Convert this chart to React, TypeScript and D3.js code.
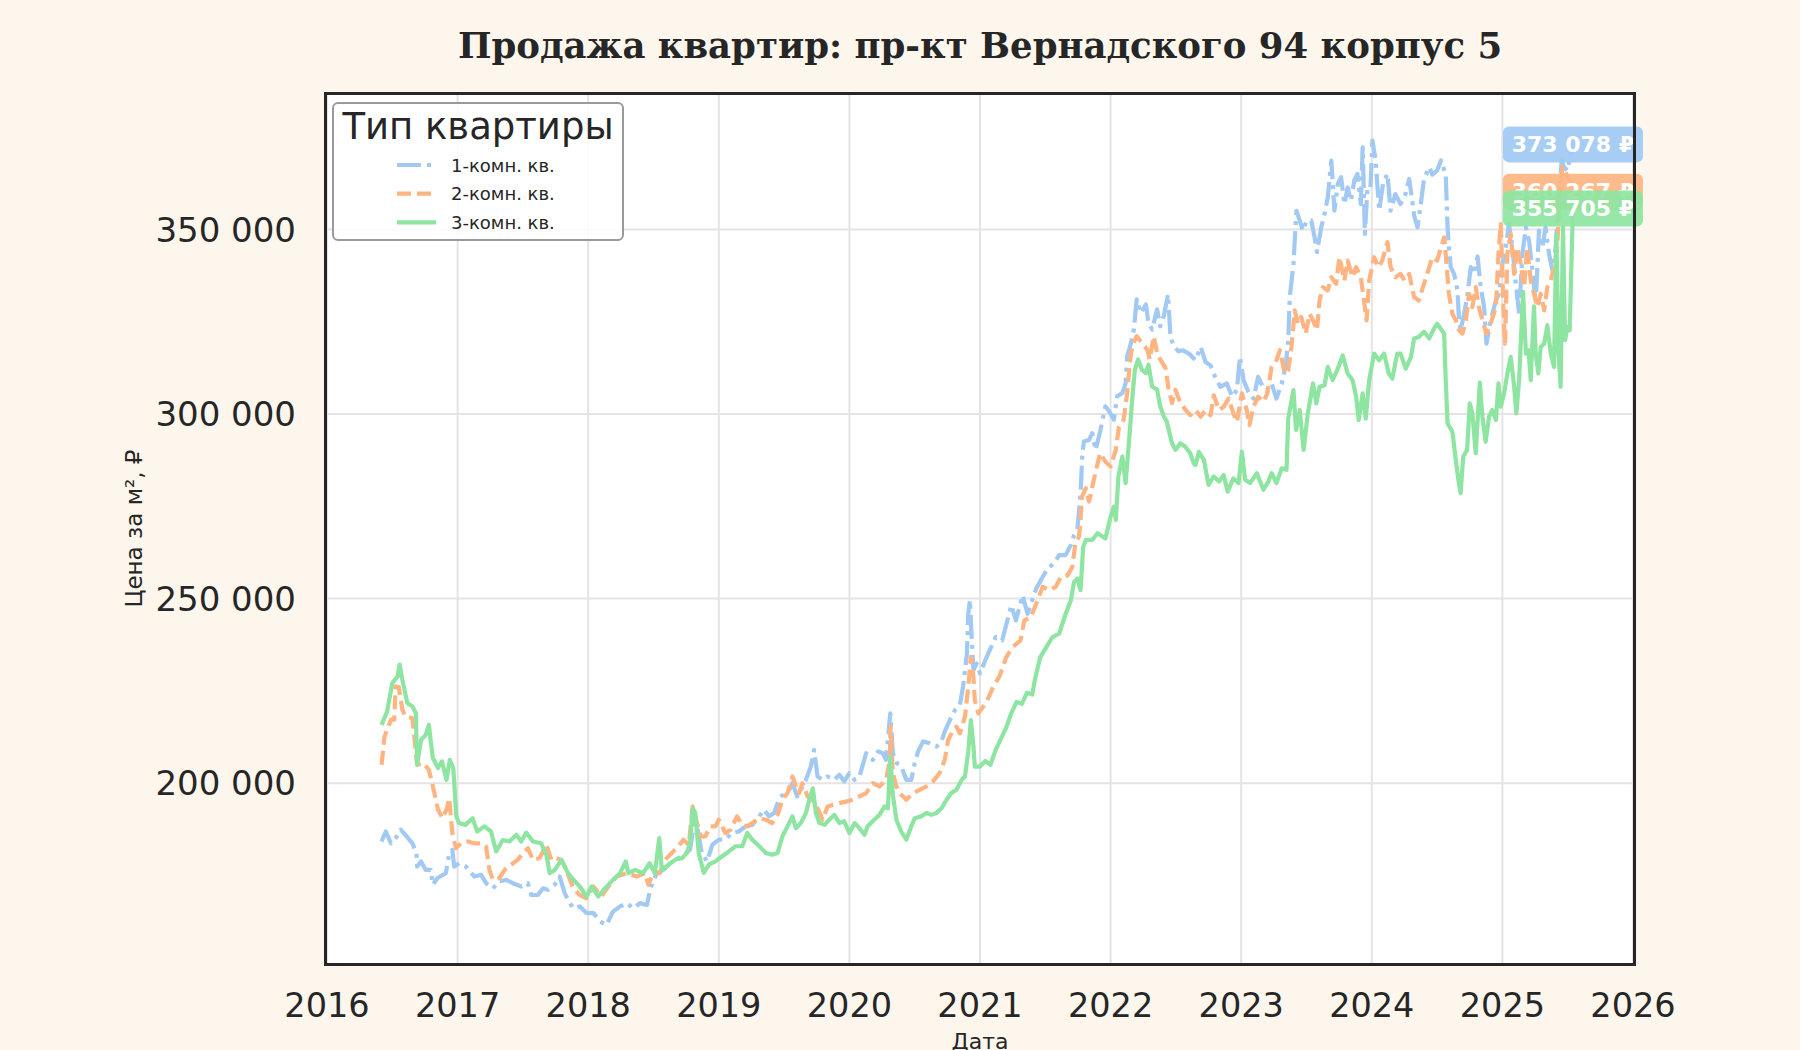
import React from 'react';
import * as d3 from 'd3';

// ---------- DATA (decimal year, price per m²) ----------
const oneRoom: [number, number][] = [
  [2016.418, 184200], [2016.45, 186900], [2016.49, 183700], [2016.526, 185100], [2016.564, 187400],
  [2016.6, 186000], [2016.654, 183700], [2016.685, 181000], [2016.69, 177400], [2016.72, 178800],
  [2016.756, 176500], [2016.795, 176500], [2016.81, 172500], [2016.846, 174300], [2016.91, 175600],
  [2016.936, 181000], [2016.96, 181900], [2016.974, 177400], [2017.013, 178300], [2017.064, 177400],
  [2017.128, 174700], [2017.18, 175200], [2017.218, 172900], [2017.27, 171500], [2017.32, 173400],
  [2017.372, 173800], [2017.423, 172900], [2017.487, 172000], [2017.538, 172900], [2017.564, 169700],
  [2017.615, 169700], [2017.654, 171500], [2017.692, 171100], [2017.744, 172500], [2017.782, 174700],
  [2017.82, 170200], [2017.846, 168400], [2017.885, 166100], [2017.936, 166600], [2017.987, 164800],
  [2018.04, 164800], [2018.09, 162500], [2018.14, 161600], [2018.19, 165200], [2018.244, 166600],
  [2018.295, 167500], [2018.346, 166100], [2018.397, 167500], [2018.45, 167000], [2018.474, 171100],
  [2018.5, 173800], [2018.526, 175600], [2018.577, 176500], [2018.64, 178800], [2018.72, 180200],
  [2018.78, 182000], [2018.81, 189200], [2018.833, 188300], [2018.87, 181100], [2018.91, 178800],
  [2018.95, 183300], [2019.0, 184700], [2019.05, 184700], [2019.1, 186500], [2019.154, 186900],
  [2019.205, 188300], [2019.256, 188700], [2019.31, 191000], [2019.346, 192800], [2019.385, 191000],
  [2019.423, 191900], [2019.46, 195500], [2019.5, 197300], [2019.54, 198200], [2019.564, 200000],
  [2019.6, 196400], [2019.628, 198200], [2019.667, 200900], [2019.705, 204500], [2019.73, 209000],
  [2019.756, 201800], [2019.795, 200900], [2019.833, 201800], [2019.885, 200900], [2019.923, 202300],
  [2019.96, 200500], [2020.0, 202700], [2020.04, 200900], [2020.077, 201800], [2020.128, 208100],
  [2020.18, 206300], [2020.22, 208600], [2020.256, 208100], [2020.28, 206300], [2020.313, 218900],
  [2020.333, 208100], [2020.364, 205400], [2020.397, 204500], [2020.436, 200900], [2020.474, 200900],
  [2020.5, 205400], [2020.526, 208600], [2020.564, 211300], [2020.615, 210800], [2020.667, 209900],
  [2020.705, 211300], [2020.73, 214000], [2020.77, 217100], [2020.808, 219800], [2020.846, 221200],
  [2020.87, 226100], [2020.9, 235100], [2020.91, 245900], [2020.923, 249600], [2020.936, 239600],
  [2020.95, 230600], [2020.974, 232400], [2021.0, 229700], [2021.05, 234100], [2021.12, 239600],
  [2021.17, 238700], [2021.24, 248200], [2021.275, 244100], [2021.326, 250900], [2021.364, 245900],
  [2021.43, 252700], [2021.466, 255000], [2021.517, 258200], [2021.567, 259500], [2021.606, 261800],
  [2021.656, 261800], [2021.695, 264500], [2021.72, 267200], [2021.746, 269000], [2021.77, 278500],
  [2021.784, 289400], [2021.796, 292600], [2021.835, 293000], [2021.86, 294800], [2021.885, 290300],
  [2021.92, 295300], [2021.96, 302100], [2021.99, 300700], [2022.025, 298500], [2022.05, 304800],
  [2022.09, 305700], [2022.115, 308400], [2022.127, 315700], [2022.15, 318400], [2022.178, 322900],
  [2022.2, 331100], [2022.23, 327400], [2022.27, 329700], [2022.29, 324700], [2022.318, 322900],
  [2022.356, 328400], [2022.38, 323800], [2022.407, 326500], [2022.44, 332400], [2022.458, 321100],
  [2022.483, 318400], [2022.52, 317000], [2022.55, 317300], [2022.6, 316400], [2022.65, 314600],
  [2022.69, 318200], [2022.727, 314100], [2022.765, 313200], [2022.8, 310100], [2022.84, 307400],
  [2022.89, 308300], [2022.93, 304700], [2022.967, 306500], [2022.99, 315500], [2023.018, 309200],
  [2023.056, 306000], [2023.094, 304200], [2023.13, 310100], [2023.165, 307400], [2023.195, 306500],
  [2023.233, 308300], [2023.27, 304200], [2023.31, 308300], [2023.34, 312800], [2023.36, 320000],
  [2023.372, 331700], [2023.4, 340700], [2023.41, 347000], [2023.423, 355100], [2023.448, 352400],
  [2023.473, 349700], [2023.5, 352400], [2023.537, 352400], [2023.562, 347900], [2023.58, 343900],
  [2023.613, 350600], [2023.638, 354200], [2023.663, 358700], [2023.69, 368700], [2023.714, 355100],
  [2023.74, 362400], [2023.765, 364200], [2023.79, 356900], [2023.815, 361400], [2023.84, 357800],
  [2023.866, 363300], [2023.89, 365100], [2023.916, 356900], [2023.93, 372300], [2023.947, 348800],
  [2023.967, 361400], [2023.99, 361400], [2024.005, 374100], [2024.03, 368700], [2024.056, 355100],
  [2024.086, 362400], [2024.12, 365100], [2024.144, 355100], [2024.18, 359600], [2024.22, 356900],
  [2024.258, 359600], [2024.286, 363700], [2024.31, 357800], [2024.324, 353800], [2024.35, 350600],
  [2024.375, 356900], [2024.4, 363700], [2024.44, 366900], [2024.464, 364900], [2024.5, 366000],
  [2024.53, 368700], [2024.566, 364900], [2024.58, 350600], [2024.59, 345200], [2024.605, 339800],
  [2024.63, 338000], [2024.656, 333500], [2024.668, 325400], [2024.68, 322700], [2024.707, 327200],
  [2024.73, 331700], [2024.758, 339800], [2024.783, 338000], [2024.81, 342700], [2024.834, 334400],
  [2024.86, 329000], [2024.878, 319100], [2024.91, 325400], [2024.95, 330800], [2024.974, 332600],
  [2025.0, 340700], [2025.026, 345200], [2025.05, 351500], [2025.077, 345200], [2025.1, 336200],
  [2025.128, 327200], [2025.153, 343400], [2025.18, 350600], [2025.204, 347000], [2025.23, 338900],
  [2025.255, 329900], [2025.28, 349700], [2025.306, 345200], [2025.33, 350600], [2025.357, 343400],
  [2025.383, 338900], [2025.408, 345200], [2025.434, 358700], [2025.454, 368700], [2025.472, 366900],
  [2025.497, 366000], [2025.54, 373078],
];

const twoRoom: [number, number][] = [
  [2016.418, 205000], [2016.44, 212600], [2016.49, 217200], [2016.515, 217200], [2016.526, 226200],
  [2016.55, 226000], [2016.577, 219900], [2016.6, 218100], [2016.654, 217600], [2016.69, 205000],
  [2016.74, 205400], [2016.78, 203600], [2016.82, 197700], [2016.85, 192800], [2016.885, 190500],
  [2016.915, 192800], [2016.936, 195900], [2016.96, 186400], [2016.987, 182400], [2017.026, 183700],
  [2017.077, 184200], [2017.128, 183700], [2017.19, 183700], [2017.218, 182800], [2017.244, 176500],
  [2017.27, 173800], [2017.32, 174300], [2017.36, 176500], [2017.41, 177900], [2017.46, 179200],
  [2017.5, 181000], [2017.538, 182400], [2017.577, 179200], [2017.628, 179700], [2017.68, 183300],
  [2017.718, 179200], [2017.756, 179700], [2017.795, 179200], [2017.833, 176500], [2017.885, 171500],
  [2017.936, 169700], [2017.987, 168800], [2018.04, 172000], [2018.1, 169300], [2018.154, 172000],
  [2018.218, 174700], [2018.295, 175600], [2018.37, 174700], [2018.436, 175600], [2018.46, 172500],
  [2018.5, 175600], [2018.55, 175700], [2018.59, 179300], [2018.64, 181100], [2018.69, 182900],
  [2018.73, 184700], [2018.77, 183300], [2018.8, 193700], [2018.833, 189200], [2018.86, 185600],
  [2018.897, 185600], [2018.936, 188300], [2018.974, 188300], [2019.0, 190100], [2019.05, 186500],
  [2019.09, 187400], [2019.14, 191000], [2019.18, 188700], [2019.218, 188300], [2019.256, 189200],
  [2019.31, 190500], [2019.36, 190100], [2019.41, 189200], [2019.45, 191400], [2019.487, 195500],
  [2019.526, 197300], [2019.564, 201800], [2019.59, 199100], [2019.615, 197300], [2019.64, 200000],
  [2019.68, 196400], [2019.718, 195500], [2019.756, 193200], [2019.795, 190100], [2019.833, 193700],
  [2019.87, 194100], [2019.923, 194600], [2019.974, 195000], [2020.026, 195500], [2020.077, 196400],
  [2020.128, 197300], [2020.18, 200000], [2020.23, 199100], [2020.28, 200900], [2020.31, 206300],
  [2020.315, 215300], [2020.333, 202700], [2020.36, 199100], [2020.385, 197300], [2020.436, 195500],
  [2020.487, 197300], [2020.538, 198200], [2020.59, 199100], [2020.64, 200500], [2020.69, 202700],
  [2020.73, 206300], [2020.756, 211700], [2020.795, 214400], [2020.82, 215300], [2020.846, 213500],
  [2020.885, 218000], [2020.91, 226100], [2020.93, 234200], [2020.95, 228800], [2020.96, 222500],
  [2020.987, 218900], [2021.05, 222000], [2021.1, 226000], [2021.15, 229000], [2021.2, 234100],
  [2021.25, 236900], [2021.31, 238700], [2021.34, 244100], [2021.39, 245000], [2021.44, 249500],
  [2021.48, 253200], [2021.53, 252300], [2021.58, 253200], [2021.62, 255900], [2021.67, 256300],
  [2021.707, 258600], [2021.72, 262200], [2021.73, 264900], [2021.758, 266800], [2021.77, 271300],
  [2021.78, 277600], [2021.81, 279900], [2021.835, 276300], [2021.86, 280300], [2021.885, 284400],
  [2021.92, 289400], [2021.96, 287100], [2022.0, 285800], [2022.04, 290300], [2022.064, 296600],
  [2022.1, 298500], [2022.127, 305700], [2022.15, 314800], [2022.165, 318400], [2022.2, 321100],
  [2022.24, 319300], [2022.28, 317500], [2022.3, 314800], [2022.33, 321100], [2022.356, 316600],
  [2022.38, 314800], [2022.42, 312500], [2022.445, 306600], [2022.47, 303000], [2022.496, 306600],
  [2022.534, 303000], [2022.575, 301100], [2022.61, 299700], [2022.65, 301100], [2022.69, 299300],
  [2022.727, 301100], [2022.765, 299700], [2022.79, 305100], [2022.83, 301100], [2022.866, 302000],
  [2022.904, 304200], [2022.94, 300200], [2022.967, 297900], [2023.005, 305600], [2023.043, 301100],
  [2023.063, 297000], [2023.094, 302000], [2023.13, 304700], [2023.17, 303300], [2023.2, 305600],
  [2023.233, 312800], [2023.27, 314600], [2023.296, 317300], [2023.334, 311000], [2023.36, 311900],
  [2023.385, 318200], [2023.41, 328100], [2023.435, 324500], [2023.46, 326300], [2023.494, 321800],
  [2023.524, 327200], [2023.55, 325400], [2023.58, 322700], [2023.6, 330800], [2023.625, 334400],
  [2023.663, 333500], [2023.69, 337100], [2023.727, 335300], [2023.752, 342500], [2023.79, 336200],
  [2023.815, 341600], [2023.853, 337100], [2023.88, 339800], [2023.916, 337100], [2023.94, 330800],
  [2023.96, 325400], [2023.98, 336200], [2024.018, 342500], [2024.05, 339800], [2024.08, 341600],
  [2024.12, 346600], [2024.144, 339800], [2024.18, 337100], [2024.22, 338000], [2024.25, 336200],
  [2024.286, 338000], [2024.324, 331700], [2024.36, 330800], [2024.4, 335300], [2024.44, 339800],
  [2024.464, 342500], [2024.5, 341600], [2024.53, 345200], [2024.554, 347900], [2024.57, 341600],
  [2024.59, 332600], [2024.617, 327200], [2024.643, 325400], [2024.668, 322700], [2024.694, 321800],
  [2024.72, 325400], [2024.745, 332600], [2024.77, 329000], [2024.796, 334400], [2024.82, 329000],
  [2024.847, 325400], [2024.878, 321800], [2024.91, 324500], [2024.95, 329000], [2024.97, 343400],
  [2024.987, 351500], [2025.013, 323600], [2025.02, 319100], [2025.038, 343400], [2025.064, 348800],
  [2025.09, 338000], [2025.115, 345200], [2025.14, 340700], [2025.166, 334400], [2025.19, 345200],
  [2025.217, 336200], [2025.242, 332600], [2025.268, 329000], [2025.293, 332600], [2025.32, 328100],
  [2025.344, 334400], [2025.37, 336200], [2025.395, 339800], [2025.42, 345200], [2025.44, 361400],
  [2025.46, 366900], [2025.48, 366000], [2025.54, 360267],
];

const threeRoom: [number, number][] = [
  [2016.418, 215800], [2016.46, 219400], [2016.5, 227100], [2016.54, 228900], [2016.556, 232100],
  [2016.577, 228000], [2016.615, 221700], [2016.654, 220800], [2016.68, 219000], [2016.69, 205000],
  [2016.72, 211700], [2016.756, 213100], [2016.78, 215800], [2016.81, 206800], [2016.85, 204100],
  [2016.88, 205900], [2016.915, 200900], [2016.94, 206300], [2016.967, 204100], [2016.99, 191000],
  [2017.01, 189200], [2017.06, 188700], [2017.115, 190500], [2017.15, 186900], [2017.205, 188300],
  [2017.256, 186900], [2017.295, 181500], [2017.346, 184600], [2017.397, 184200], [2017.45, 186000],
  [2017.487, 184200], [2017.526, 186600], [2017.577, 184200], [2017.64, 183700], [2017.68, 180600],
  [2017.705, 175600], [2017.744, 176500], [2017.795, 179200], [2017.846, 175600], [2017.897, 173400],
  [2017.936, 172000], [2017.987, 169300], [2018.026, 172000], [2018.077, 169300], [2018.128, 171500],
  [2018.19, 173800], [2018.244, 175600], [2018.287, 178800], [2018.308, 175600], [2018.36, 176500],
  [2018.42, 175600], [2018.47, 178300], [2018.51, 175600], [2018.544, 185100], [2018.564, 176500],
  [2018.615, 177900], [2018.667, 179300], [2018.72, 179700], [2018.756, 181100], [2018.78, 183800],
  [2018.8, 193200], [2018.82, 191900], [2018.846, 181100], [2018.885, 175700], [2018.923, 177900],
  [2018.974, 178800], [2019.026, 180200], [2019.077, 181500], [2019.128, 182900], [2019.18, 182900],
  [2019.218, 186500], [2019.256, 184700], [2019.31, 182900], [2019.36, 181100], [2019.41, 180600],
  [2019.45, 181100], [2019.487, 185600], [2019.526, 188300], [2019.564, 191000], [2019.59, 187800],
  [2019.628, 189200], [2019.667, 191900], [2019.7, 196400], [2019.72, 198600], [2019.744, 191900],
  [2019.77, 189200], [2019.81, 188700], [2019.846, 190100], [2019.885, 191400], [2019.923, 189200],
  [2019.96, 189700], [2020.0, 186500], [2020.04, 189200], [2020.077, 187800], [2020.115, 186000],
  [2020.14, 188300], [2020.19, 190100], [2020.23, 191400], [2020.27, 193700], [2020.295, 193200],
  [2020.313, 207200], [2020.333, 196800], [2020.36, 190100], [2020.397, 186900], [2020.436, 184700],
  [2020.474, 188300], [2020.5, 190500], [2020.55, 191000], [2020.59, 191900], [2020.628, 191400],
  [2020.667, 191900], [2020.705, 193200], [2020.744, 195500], [2020.78, 197300], [2020.82, 198200],
  [2020.86, 200900], [2020.885, 201800], [2020.91, 208600], [2020.93, 217100], [2020.95, 209900],
  [2020.96, 204500], [2021.0, 204500], [2021.04, 206000], [2021.08, 205000], [2021.12, 209000],
  [2021.16, 212000], [2021.2, 215000], [2021.24, 219000], [2021.28, 222000], [2021.32, 221500],
  [2021.36, 224500], [2021.4, 224000], [2021.42, 228000], [2021.46, 234000], [2021.5, 236400],
  [2021.555, 239600], [2021.606, 240500], [2021.656, 245900], [2021.695, 249500], [2021.72, 254500],
  [2021.746, 255400], [2021.77, 252300], [2021.79, 264000], [2021.81, 265900], [2021.86, 265900],
  [2021.9, 267700], [2021.96, 266300], [2022.0, 272200], [2022.025, 274900], [2022.04, 271300],
  [2022.06, 283100], [2022.09, 288500], [2022.115, 281300], [2022.14, 292100], [2022.165, 303900],
  [2022.186, 312000], [2022.21, 314800], [2022.24, 312000], [2022.27, 311100], [2022.29, 313400],
  [2022.318, 307500], [2022.356, 306600], [2022.38, 302100], [2022.407, 299400], [2022.43, 298000],
  [2022.47, 292100], [2022.496, 290300], [2022.534, 292100], [2022.57, 291200], [2022.61, 289400],
  [2022.636, 286700], [2022.65, 286200], [2022.676, 289800], [2022.714, 287600], [2022.75, 280800],
  [2022.79, 283100], [2022.83, 281700], [2022.866, 283500], [2022.896, 279000], [2022.94, 282600],
  [2022.98, 281300], [2023.005, 289800], [2023.03, 282200], [2023.068, 281300], [2023.12, 284000],
  [2023.17, 279500], [2023.208, 281700], [2023.233, 284000], [2023.27, 281300], [2023.31, 285300],
  [2023.347, 284900], [2023.36, 298800], [2023.4, 306500], [2023.42, 295700], [2023.448, 301100],
  [2023.478, 290300], [2023.51, 300200], [2023.55, 308300], [2023.575, 302900], [2023.6, 307400],
  [2023.638, 307800], [2023.663, 312800], [2023.7, 309200], [2023.74, 312300], [2023.777, 315900],
  [2023.815, 311000], [2023.853, 309200], [2023.88, 304700], [2023.9, 298400], [2023.93, 305600],
  [2023.954, 298800], [2023.98, 309200], [2024.018, 316400], [2024.056, 314600], [2024.094, 316400],
  [2024.13, 311000], [2024.157, 309600], [2024.195, 316400], [2024.22, 316400], [2024.26, 312300],
  [2024.3, 315500], [2024.324, 320500], [2024.36, 320900], [2024.4, 322300], [2024.44, 320500],
  [2024.477, 323200], [2024.5, 324500], [2024.536, 322700], [2024.554, 321800], [2024.566, 309200],
  [2024.58, 297500], [2024.617, 295200], [2024.643, 287600], [2024.663, 282200], [2024.68, 278600],
  [2024.7, 288500], [2024.73, 290300], [2024.75, 302900], [2024.77, 300200], [2024.796, 289400],
  [2024.827, 308500], [2024.847, 299300], [2024.872, 292500], [2024.898, 299300], [2024.923, 301100],
  [2024.95, 298400], [2024.97, 308300], [2024.987, 302000], [2025.013, 305600], [2025.038, 311000],
  [2025.064, 315500], [2025.09, 307400], [2025.107, 300200], [2025.128, 309200], [2025.158, 333100],
  [2025.18, 316400], [2025.2, 317300], [2025.217, 309200], [2025.242, 329200], [2025.255, 316400],
  [2025.275, 311000], [2025.293, 318200], [2025.32, 319100], [2025.344, 324100], [2025.37, 316400],
  [2025.395, 312800], [2025.413, 348800], [2025.43, 316400], [2025.446, 307400], [2025.464, 350600],
  [2025.48, 320000], [2025.497, 323600], [2025.515, 322700], [2025.54, 355705],
];

const seriesNames = ['1-комн. кв.', '2-комн. кв.', '3-комн. кв.'];
const seriesColors = ['#a1c9f4', '#ffb482', '#8de5a1'];
const seriesDash = ['24 6 4 6', '14 6', 'none'];
const yearTicks = [2016, 2017, 2018, 2019, 2020, 2021, 2022, 2023, 2024, 2025, 2026];
const valueTicks = [200000, 250000, 300000, 350000];

const titleText = 'Продажа квартир: пр-кт Вернадского 94 корпус 5';
const legendTitle = 'Тип квартиры';
const xLabel = 'Дата';
const yLabel = 'Цена за м², ₽';

const W = 1800;
const H = 1050;
const P = { left: 326, right: 1634, top: 93, bottom: 964 };

const fmtNum = (v: number) => d3.format(',')(Math.round(v)).replace(/,/g, ' ');

export default function App() {
  const x = d3.scaleLinear().domain([2016, 2026]).range([327, 1633]);
  const y = d3.scaleLinear().domain([151000, 387000]).range([P.bottom, P.top]);
  const line = d3
    .line<[number, number]>()
    .x((d) => x(d[0]))
    .y((d) => y(d[1]));
  const allSeries = [oneRoom, twoRoom, threeRoom];
  const sans = '"DejaVu Sans", sans-serif';
  const textColor = '#262626';

  return (
    <svg
      width={W}
      height={H}
      style={{ position: 'absolute', left: 0, top: 0 }}
      fontFamily={sans}
    >
      <rect x={0} y={0} width={W} height={H} fill="#fdf6ec" />
      <rect x={P.left} y={P.top} width={P.right - P.left} height={P.bottom - P.top} fill="#ffffff" />

      {/* grid */}
      <g stroke="#e4e4e4" strokeWidth={2}>
        {yearTicks.map((t) => (
          <line key={'gx' + t} x1={x(t)} x2={x(t)} y1={P.top} y2={P.bottom} />
        ))}
        {valueTicks.map((v) => (
          <line key={'gy' + v} x1={P.left} x2={P.right} y1={y(v)} y2={y(v)} />
        ))}
      </g>

      {/* series */}
      <g fill="none" strokeWidth={4.2} strokeLinejoin="round">
        {allSeries.map((s, i) => (
          <path
            key={'s' + i}
            d={line(s) || ''}
            stroke={seriesColors[i]}
            strokeDasharray={seriesDash[i]}
          />
        ))}
      </g>

      {/* end labels */}
      {allSeries.map((s, i) => {
        const last = s[s.length - 1];
        const cx = x(last[0]);
        const cy = y(last[1]);
        return (
          <g key={'lab' + i}>
            <rect x={cx - 70} y={cy - 18} width={140} height={36} rx={6} fill={seriesColors[i]} fillOpacity={0.92} />
            <text
              x={cx}
              y={cy}
              textAnchor="middle"
              dominantBaseline="central"
              fill="#ffffff"
              fontWeight="bold"
              fontSize={22}
            >
              {fmtNum(last[1]) + ' ₽'}
            </text>
          </g>
        );
      })}

      {/* frame */}
      <rect
        x={P.left - 0.5}
        y={P.top + 0.5}
        width={P.right - P.left + 1}
        height={P.bottom - P.top}
        fill="none"
        stroke={textColor}
        strokeWidth={3}
      />

      {/* y tick labels */}
      {valueTicks.map((v) => (
        <text key={'yt' + v} x={296} y={y(v)} textAnchor="end" dominantBaseline="central" fontSize={34} fill={textColor}>
          {fmtNum(v)}
        </text>
      ))}

      {/* x tick labels */}
      {yearTicks.map((t) => (
        <text key={'xt' + t} x={x(t)} y={1017} textAnchor="middle" fontSize={33.5} fill={textColor}>
          {String(t)}
        </text>
      ))}

      {/* axis labels */}
      <text x={(P.left + P.right) / 2} y={1049} textAnchor="middle" fontSize={22} fill={textColor}>
        {xLabel}
      </text>
      <text
        transform={`translate(134, ${(P.top + P.bottom) / 2}) rotate(-90)`}
        textAnchor="middle"
        dominantBaseline="central"
        fontSize={23}
        fill={textColor}
      >
        {yLabel}
      </text>

      {/* title */}
      <text
        x={(P.left + P.right) / 2}
        y={58}
        textAnchor="middle"
        fontFamily='"DejaVu Serif", serif'
        fontWeight="bold"
        fontSize={35.5}
        fill={textColor}
      >
        {titleText}
      </text>

      {/* legend */}
      <g>
        <rect x={333} y={103} width={290} height={137} rx={5} fill="#ffffff" fillOpacity={0.85} stroke="#9a9a9a" strokeWidth={2} />
        <text x={478} y={139} textAnchor="middle" fontSize={37} fill={textColor}>
          {legendTitle}
        </text>
        {seriesNames.map((n, i) => {
          const ly = 165 + i * 28.7;
          return (
            <g key={'lg' + i}>
              <line
                x1={397}
                x2={436}
                y1={ly}
                y2={ly}
                stroke={seriesColors[i]}
                strokeWidth={4.2}
                strokeDasharray={seriesDash[i]}
              />
              <text x={451} y={ly} dominantBaseline="central" fontSize={18} fill={textColor}>
                {n}
              </text>
            </g>
          );
        })}
      </g>
    </svg>
  );
}
